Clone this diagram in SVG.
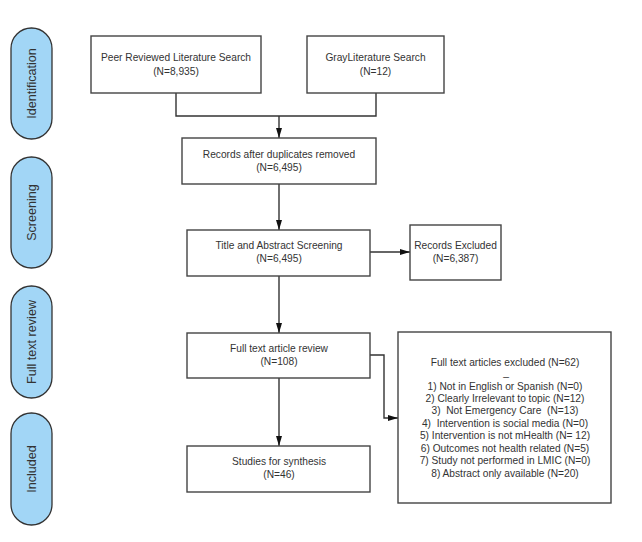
<svg xmlns="http://www.w3.org/2000/svg" width="642" height="542" viewBox="0 0 642 542">
<defs>
<style>
.pill{fill:#a2d6f6;stroke:#333;stroke-width:1.3}
.box{fill:#fff;stroke:#444;stroke-width:1.4}
.t{font-family:"Liberation Sans",Arial,sans-serif;font-size:10.2px;fill:#333;text-anchor:middle}
.pt{font-family:"Liberation Sans",Arial,sans-serif;font-size:12.6px;fill:#333;text-anchor:middle}
.c{fill:none;stroke:#333;stroke-width:1.4}
</style>
<marker id="ah" viewBox="0 0 10 6" refX="10" refY="3" markerWidth="10" markerHeight="6" orient="auto" markerUnits="userSpaceOnUse">
<path d="M0,0 L10,3 L0,6 Z" fill="#111"/>
</marker>
</defs>
<rect width="642" height="542" fill="#fff"/>
<g id="pill-identification"><rect class="pill" x="11" y="28" width="41" height="111" rx="20.5"/><text class="pt" transform="translate(35.5,83.5) rotate(-90)">Identification</text></g>
<g id="pill-screening"><rect class="pill" x="11" y="157" width="41" height="111" rx="20.5"/><text class="pt" transform="translate(35.5,212.5) rotate(-90)">Screening</text></g>
<g id="pill-fulltext"><rect class="pill" x="11" y="286" width="41" height="112" rx="20.5"/><text class="pt" transform="translate(35.5,342) rotate(-90)">Full text review</text></g>
<g id="pill-included"><rect class="pill" x="11" y="413" width="41" height="112" rx="20.5"/><text class="pt" transform="translate(35.5,469) rotate(-90)">Included</text></g>

<g id="connectors">
<path class="c" d="M176,93 V116 H376 V93"/>
<path class="c" d="M279,116 V138" marker-end="url(#ah)"/>
<path class="c" d="M279,184 V230" marker-end="url(#ah)"/>
<path class="c" d="M370,252 H410" marker-end="url(#ah)"/>
<path class="c" d="M279,276 V333" marker-end="url(#ah)"/>
<path class="c" d="M279,378 V446" marker-end="url(#ah)"/>
<path class="c" d="M370,355 H384 V418 H398" marker-end="url(#ah)"/>
</g>

<g id="peer"><rect class="box" x="91" y="36" width="170" height="57"/><text class="t" x="176" y="61">Peer Reviewed Literature Search</text><text class="t" x="176" y="74.5">(N=8,935)</text></g>
<g id="gray"><rect class="box" x="307" y="36" width="137" height="57"/><text class="t" x="375.5" y="61">GrayLiterature Search</text><text class="t" x="375.5" y="74.5">(N=12)</text></g>
<g id="dups"><rect class="box" x="182" y="138" width="194" height="46"/><text class="t" x="279" y="158">Records after duplicates removed</text><text class="t" x="279" y="171">(N=6,495)</text></g>
<g id="screen"><rect class="box" x="187" y="230" width="183" height="46"/><text class="t" x="279" y="249">Title and Abstract Screening</text><text class="t" x="279" y="262">(N=6,495)</text></g>
<g id="excluded"><rect class="box" x="410" y="225" width="91" height="55"/><text class="t" x="455.5" y="249">Records Excluded</text><text class="t" x="455.5" y="262">(N=6,387)</text></g>
<g id="fulltext"><rect class="box" x="187" y="333" width="183" height="45"/><text class="t" x="279" y="352">Full text article review</text><text class="t" x="279" y="364.5">(N=108)</text></g>
<g id="studies"><rect class="box" x="187" y="446" width="183" height="46"/><text class="t" x="279" y="465">Studies for synthesis</text><text class="t" x="279" y="477.5">(N=46)</text></g>
<g id="ftexcluded"><rect class="box" x="398" y="332" width="213" height="171"/>
<text class="t" x="505" y="365.5">Full text articles excluded (N=62)</text>
<text class="t" x="506" y="376">_</text>
<text class="t" x="505" y="389.5">1) Not in English or Spanish (N=0)</text>
<text class="t" x="505" y="402">2) Clearly Irrelevant to topic (N=12)</text>
<text class="t" x="505" y="414" xml:space="preserve">3)  Not Emergency Care  (N=13)</text>
<text class="t" x="505" y="426.5" xml:space="preserve">4)  Intervention is social media (N=0)</text>
<text class="t" x="505" y="439">5) Intervention is not mHealth (N= 12)</text>
<text class="t" x="505" y="451.5">6) Outcomes not health related (N=5)</text>
<text class="t" x="505" y="464">7) Study not performed in LMIC (N=0)</text>
<text class="t" x="505" y="476.5">8) Abstract only available (N=20)</text>
</g>
</svg>
